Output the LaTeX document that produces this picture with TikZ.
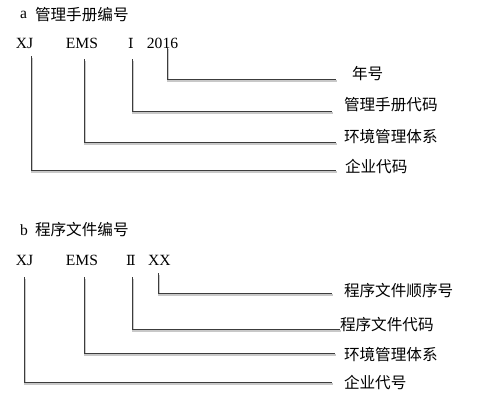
\documentclass[tikz,border=0pt]{standalone}
\usepackage{fontspec}
\setmainfont{Liberation Serif}
\newfontfamily\cjk{Noto Sans CJK SC}
\newfontfamily\romfont{DejaVu Serif}
\definecolor{linecol}{HTML}{3C3C3C}
\definecolor{shadowcol}{HTML}{C8C8C8}
\begin{document}
\begin{tikzpicture}[x=1pt,y=-1pt,
  every node/.style={inner sep=0pt,outer sep=0pt,font=\fontsize{15.6}{18}\selectfont},
  code/.style={anchor=center},
  roman/.style={anchor=center,font=\fontsize{14}{18}\selectfont\romfont},
  label/.style={anchor=west,font=\fontsize{15.6}{18}\selectfont\cjk},
  conn/.style={draw=linecol,line width=1pt},
  shadowline/.style={draw=shadowcol,line width=2pt,transform canvas={shift={(1pt,-2pt)}}}
]
\useasboundingbox[fill=white] (0,0) rectangle (482,402);

% ---------- part a ----------
\node[anchor=west] (ha) at (20,15) {a};
\node[label] (hat) at (35,15) {管理手册编号};

\node[code] (axj)  at (24.5,43) {XJ};
\node[code] (aems) at (82,43)   {EMS};
\node[roman] (arom) at (131,43) {Ⅰ};
\node[code] (ayr)  at (162.5,43) {2016};

\node[label] (lyr)  at (352,74)  {年号};
\node[label] (lman) at (344,105) {管理手册代码};
\node[label] (lenv) at (344,137) {环境管理体系};
\node[label] (lent) at (345,167) {企业代码};

\coordinate (s1) at (167,47);  \coordinate (e1) at (336,79);
\coordinate (s2) at (132,59);  \coordinate (e2) at (332,111);
\coordinate (s3) at (84,59);   \coordinate (e3) at (336,142);
\coordinate (s4) at (31,56);   \coordinate (e4) at (336,170);

% ---------- part b ----------
\node[anchor=west] (hb) at (20,230) {b};
\node[label] (hbt) at (35,230) {程序文件编号};

\node[code] (bxj)  at (24.5,260) {XJ};
\node[code] (bems) at (82,260)   {EMS};
\node[roman] (brom) at (131,260) {Ⅱ};
\node[code] (bxx)  at (159.5,260) {XX};

\node[label] (lseq)  at (344,291) {程序文件顺序号};
\node[label] (lproc) at (340,325) {程序文件代码};
\node[label] (lenvb) at (344,355) {环境管理体系};
\node[label] (lentb) at (344,383) {企业代号};

\coordinate (t1) at (158,273); \coordinate (f1) at (332,293);
\coordinate (t2) at (132,277); \coordinate (f2) at (340,329);
\coordinate (t3) at (84,277);  \coordinate (f3) at (335,353);
\coordinate (t4) at (24,277);  \coordinate (f4) at (332,382);

% shadows
\foreach \a/\b in {s1/e1,s2/e2,s3/e3,s4/e4,t1/f1,t2/f2,t3/f3,t4/f4}{
  \path[shadowline] (\a) |- (\b);
}
% connectors
\foreach \a/\b in {s1/e1,s2/e2,s3/e3,s4/e4,t1/f1,t2/f2,t3/f3,t4/f4}{
  \path[conn] (\a) |- (\b);
}
\end{tikzpicture}
\end{document}
